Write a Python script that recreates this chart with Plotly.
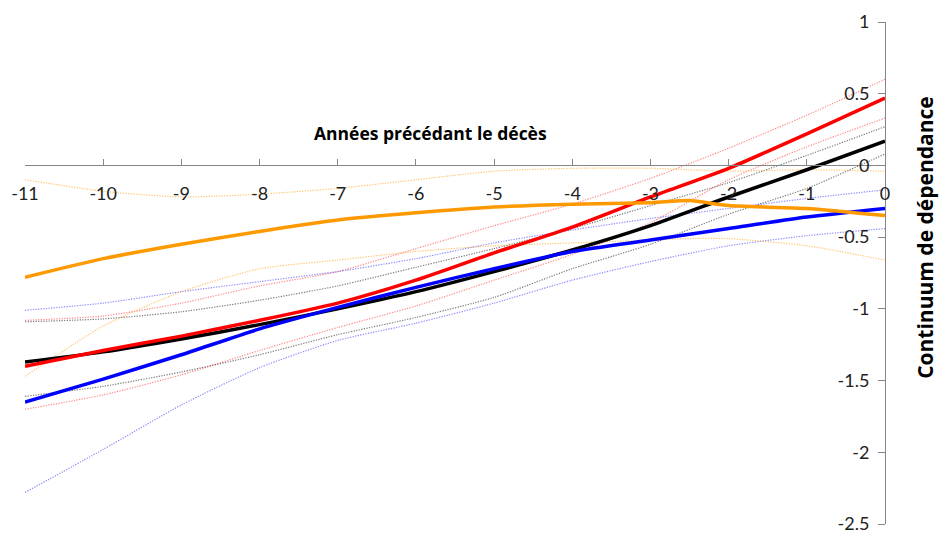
import plotly.graph_objects as go

# Years before death
years = [-11, -10, -9, -8, -7, -6, -5, -4, -3, -2, -1, 0]

# Black series: estimate and confidence bounds
black_mid = [-1.37, -1.30, -1.21, -1.11, -1.00, -0.88, -0.74, -0.59, -0.42, -0.22, -0.03, 0.17]
black_hi = [-1.09, -1.07, -1.02, -0.94, -0.84, -0.71, -0.58, -0.44, -0.28, -0.12, 0.07, 0.27]
black_lo = [-1.61, -1.54, -1.44, -1.32, -1.18, -1.06, -0.92, -0.72, -0.55, -0.34, -0.16, 0.08]

# Red series
red_mid = [-1.40, -1.29, -1.19, -1.08, -0.96, -0.80, -0.61, -0.43, -0.22, -0.02, 0.22, 0.47]
red_hi = [-1.08, -1.05, -0.96, -0.84, -0.74, -0.58, -0.42, -0.27, -0.09, 0.12, 0.35, 0.60]
red_lo = [-1.70, -1.60, -1.46, -1.29, -1.13, -0.98, -0.80, -0.62, -0.40, -0.10, 0.13, 0.33]

# Blue series
blue_mid = [-1.65, -1.49, -1.32, -1.14, -0.99, -0.85, -0.72, -0.60, -0.52, -0.44, -0.36, -0.30]
blue_hi = [-1.01, -0.96, -0.88, -0.81, -0.74, -0.65, -0.54, -0.45, -0.37, -0.30, -0.23, -0.17]
blue_lo = [-2.28, -1.98, -1.67, -1.41, -1.22, -1.10, -0.96, -0.80, -0.67, -0.56, -0.49, -0.44]

# Orange series (has an extra half-year point)
orange_years = [-11, -10, -9, -8, -7, -6, -5, -4, -3, -2.5, -2, -1, 0]
orange_mid = [-0.78, -0.65, -0.55, -0.46, -0.38, -0.33, -0.29, -0.27, -0.26, -0.245, -0.28, -0.30, -0.35]
orange_hi = [-0.10, -0.18, -0.22, -0.20, -0.16, -0.10, -0.04, -0.02, -0.02, -0.03, -0.04, -0.03, -0.04]
orange_lo = [-1.47, -1.12, -0.88, -0.72, -0.66, -0.60, -0.56, -0.54, -0.52, -0.51, -0.51, -0.56, -0.66]

x_ticks = [-11, -10, -9, -8, -7, -6, -5, -4, -3, -2, -1, 0]
y_ticks = [-2.5, -2, -1.5, -1, -0.5, 0, 0.5, 1]
y_tick_text = ["-2.5", "-2", "-1.5", "-1", "-0.5", "0", "0.5", "1"]

TICK_FONT = "Lato, 'Open Sans', sans-serif"
TITLE_FONT = "'Open Sans', Lato, sans-serif"
AXIS_GREY = "#868686"
TEXT = "#222222"

series = [
    (years, black_mid, black_hi, black_lo, "#000000", "rgba(0,0,0,0.5)"),
    (years, red_mid, red_hi, red_lo, "#ff0000", "rgba(255,0,0,0.45)"),
    (years, blue_mid, blue_hi, blue_lo, "#0000ff", "rgba(0,0,255,0.45)"),
    (orange_years, orange_mid, orange_hi, orange_lo, "#ff9900", "rgba(255,153,0,0.55)"),
]

fig = go.Figure()

# Dotted confidence bounds first, thick estimates on top
for xs, mid, hi, lo, col, faint in series:
    for band in (hi, lo):
        fig.add_trace(go.Scatter(
            x=xs, y=band, mode="lines",
            line=dict(color=faint, width=1.2, dash="1.3px,1.3px", shape="spline", smoothing=0.6),
            hoverinfo="skip", showlegend=False,
        ))

for xs, mid, hi, lo, col, faint in series:
    fig.add_trace(go.Scatter(
        x=xs, y=mid, mode="lines",
        line=dict(color=col, width=3.5, shape="spline", smoothing=0.6),
        showlegend=False,
    ))

fig.update_layout(
    width=939, height=535,
    margin=dict(l=25, r=54, t=22, b=11, autoexpand=False),
    paper_bgcolor="white", plot_bgcolor="white",
    font=dict(family=TICK_FONT, size=18, color=TEXT),
    showlegend=False,
    xaxis=dict(
        range=[-11, 0], tickvals=x_ticks, ticktext=[str(v) for v in x_ticks],
        anchor="free", position=2.5 / 3.5, automargin=False,
        showline=True, linecolor=AXIS_GREY, linewidth=1,
        ticks="inside", ticklen=6, tickcolor=AXIS_GREY,
        ticklabelstandoff=12,
        showgrid=False, zeroline=False,
        tickfont=dict(family=TICK_FONT, size=18, color=TEXT),
    ),
    yaxis=dict(
        range=[-2.5, 1], tickvals=y_ticks, ticktext=y_tick_text,
        side="left", anchor="free", position=1.0, automargin=False,
        showline=True, linecolor=AXIS_GREY, linewidth=1,
        ticks="outside", ticklen=7, tickcolor=AXIS_GREY,
        ticklabelstandoff=5, ticklabeloverflow="allow",
        showgrid=False, zeroline=False,
        tickfont=dict(family=TICK_FONT, size=18, color=TEXT),
    ),
    annotations=[
        dict(
            text="<b>Années précédant le décès</b>",
            xref="paper", yref="paper", x=0.4715, y=0.778,
            xanchor="center", yanchor="middle", showarrow=False,
            font=dict(family=TITLE_FONT, size=17.5, color="#000000"),
        ),
        dict(
            text="<b>Continuum de dépendance</b>",
            xref="paper", yref="paper", x=1.0465, y=0.572,
            xanchor="center", yanchor="middle", showarrow=False, textangle=-90,
            font=dict(family=TITLE_FONT, size=21, color="#000000"),
        ),
    ],
)

fig.write_html("out.html")
